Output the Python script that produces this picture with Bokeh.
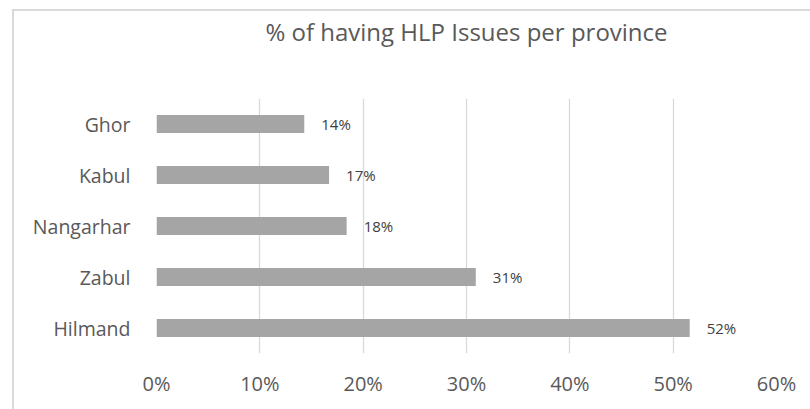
from bokeh.plotting import figure
from bokeh.models import (ColumnDataSource, FactorRange, Range1d, FixedTicker,
                          NumeralTickFormatter, LinearAxis)
from bokeh.core.properties import value
from bokeh.embed import file_html
from bokeh.resources import INLINE

# Share of respondents reporting housing, land and property issues
provinces = ["Hilmand", "Zabul", "Nangarhar", "Kabul", "Ghor"]
shares = [0.516, 0.309, 0.184, 0.167, 0.143]
x_ticks = [0.0, 0.1, 0.2, 0.3, 0.4, 0.5, 0.6]
chart_title = "% of having HLP Issues per province"

FONT = "Open Sans"
TEXT = "#595959"
GRID = "#d9d9d9"

source = ColumnDataSource(data=dict(
    province=provinces,
    share=shares,
    label=[f"{round(s * 100):.0f}%" for s in shares],
))

p = figure(
    y_range=FactorRange(factors=provinces),
    x_range=Range1d(0, 0.6),
    frame_width=620, frame_height=255,
    min_border_left=142, min_border_right=34,
    min_border_top=86, min_border_bottom=57,
    output_backend="svg", toolbar_location=None, tools="",
)
p.styles = {
    "margin-left": "12px", "margin-top": "9px",
    "border-left": f"2px solid {GRID}", "border-top": f"2px solid {GRID}",
}
p.outline_line_color = None
p.background_fill_color = "white"
p.border_fill_color = "white"

# heading carried by a bare axis above the frame, so its gap can be set
heading = LinearAxis(ticker=FixedTicker(ticks=[]), axis_label=chart_title,
                     axis_label_standoff=51,
                     axis_label_text_font=FONT,
                     axis_label_text_font_size="24px",
                     axis_label_text_font_style="normal",
                     axis_label_text_color=TEXT,
                     axis_line_color=None, major_tick_line_color=None,
                     minor_tick_line_color=None, major_tick_out=0,
                     minor_tick_out=0, major_label_standoff=0)
p.add_layout(heading, "above")

p.hbar(y="province", right="share", left=0, height=0.353, source=source,
       fill_color="#a5a5a5", line_color=None)

p.text(x="share", y="province", text="label", source=source,
       x_offset=17, text_baseline="middle", text_align="left",
       text_font=value(FONT), text_font_size="15px", text_color="#404040")

# value axis along the bottom, category axis on the left
xaxis = p.below[0]
yaxis = p.left[0]
xaxis.ticker = FixedTicker(ticks=x_ticks)
xaxis.formatter = NumeralTickFormatter(format="0%")
for ax in (xaxis, yaxis):
    ax.axis_line_color = None
    ax.major_tick_line_color = None
    ax.minor_tick_line_color = None
    ax.major_label_text_font = FONT
    ax.major_label_text_color = TEXT
xaxis.major_label_text_font_size = "20px"
xaxis.major_label_standoff = 10
yaxis.major_label_text_font_size = "19.5px"
yaxis.major_label_standoff = 20

p.xgrid.grid_line_color = GRID
p.xgrid.grid_line_width = 1.3
p.ygrid.grid_line_color = None

open("out.html", "w").write(file_html(p, INLINE))
